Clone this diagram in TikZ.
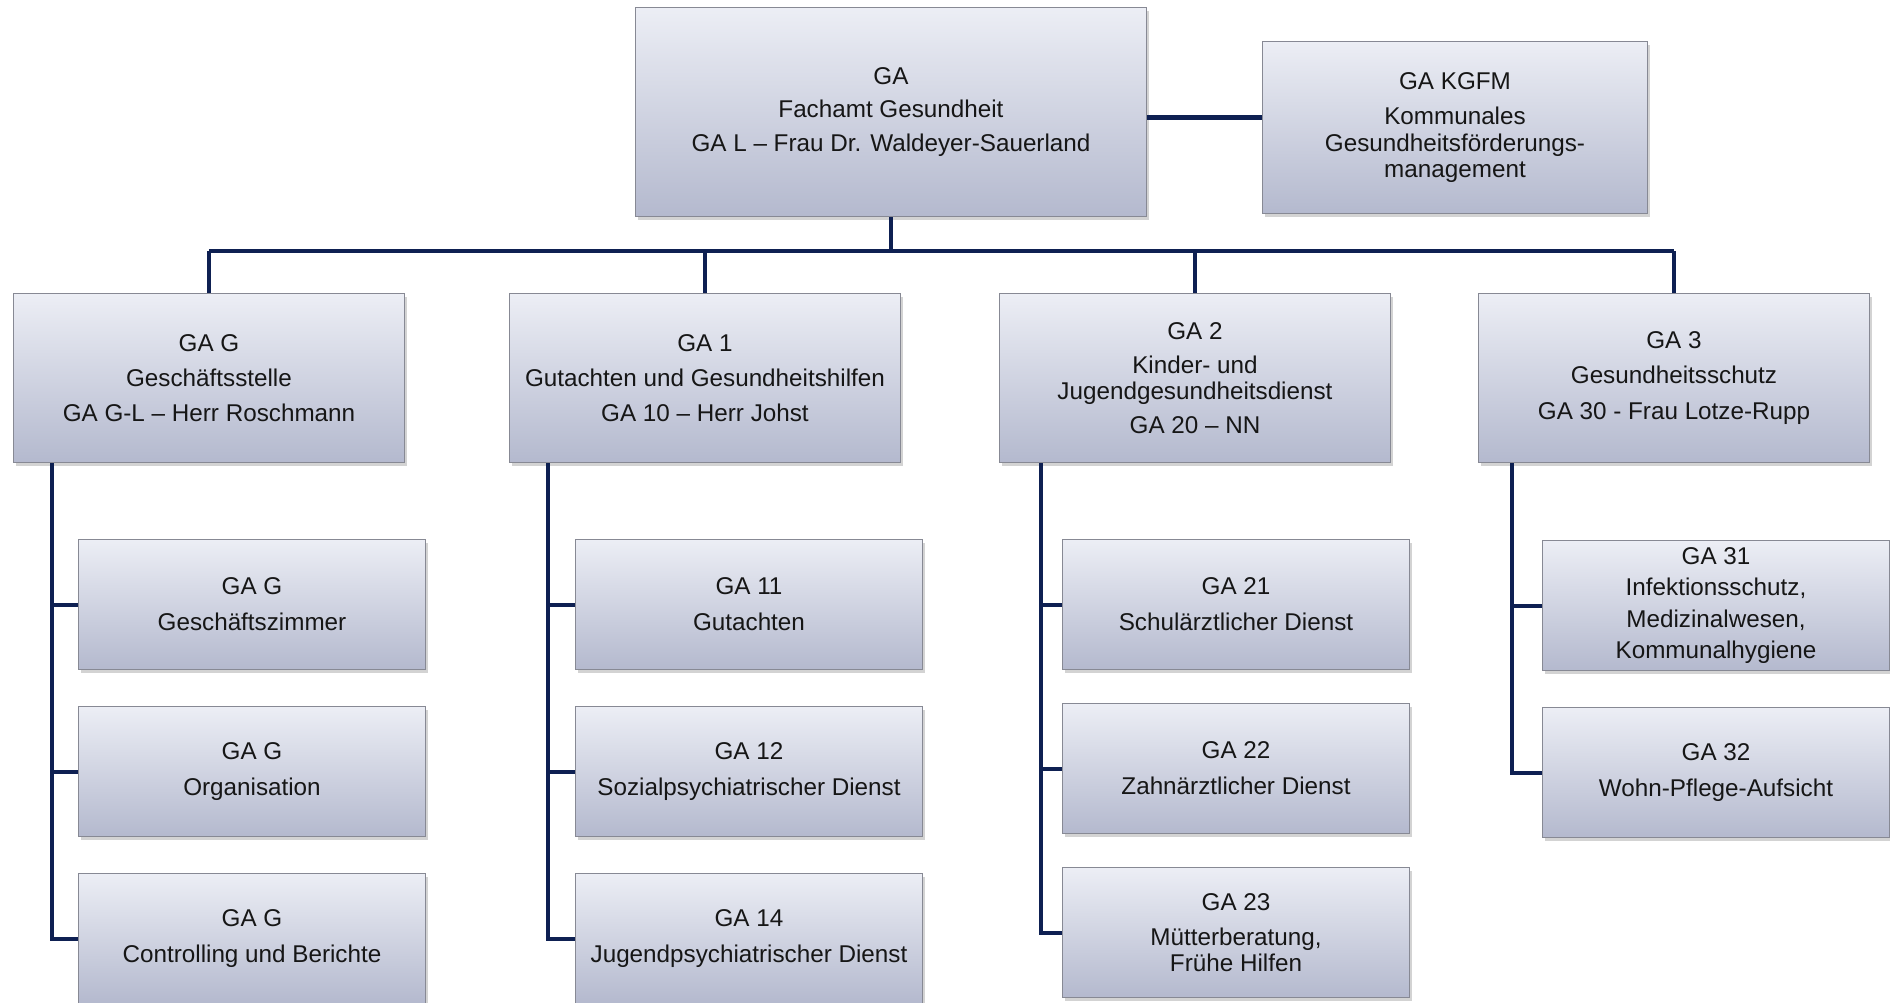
\documentclass[tikz,border=0pt]{standalone}
\usepackage{fontspec}
\setmainfont{Liberation Sans}
\usetikzlibrary{positioning, shadows}

\definecolor{boxtop}{RGB}{236,238,245}
\definecolor{boxbottom}{RGB}{180,185,206}
\definecolor{boxline}{RGB}{135,137,148}
\definecolor{linknavy}{RGB}{14,32,82}
\definecolor{textgrey}{RGB}{22,22,22}

\begin{document}
\begin{tikzpicture}[
    x=0.02cm, y=-0.02cm,
    node distance=0.72cm,
    font=\fontsize{13.8}{15}\selectfont,
    unit/.style={rectangle, draw=boxline, line width=0.6pt, top color=boxtop, bottom color=boxbottom, text=textgrey, align=center, inner sep=2pt, drop shadow={shadow xshift=0.05cm, shadow yshift=-0.07cm, opacity=0.35}},
    head/.style={unit, minimum width=10.22cm, minimum height=4.18cm, anchor=north west},
    staff/.style={unit, minimum width=7.7cm, minimum height=3.44cm, anchor=north west},
    dept/.style={unit, minimum width=7.82cm, minimum height=3.38cm, anchor=north west},
    team/.style={unit, minimum width=6.94cm, minimum height=2.6cm},
    link/.style={draw=linknavy, line width=2.3pt}
]
\useasboundingbox (0,0) rectangle (1890,1002);

% Leitung und Stabsstelle
\node[head] (ga) at (635,7) {GA\\[4.3pt]Fachamt Gesundheit\\[4.3pt]GA L -- Frau Dr. Waldeyer-Sauerland};
\node[staff] (kgfm) at (1262,41) {GA KGFM\\[5pt]Kommunales\\Gesundheitsförderungs-\\management};

% Abteilungen
\node[dept] (gG) at (13,293) {GA G\\[5pt]Geschäftsstelle\\[5pt]GA G-L -- Herr Roschmann};
\node[dept] (g1) at (509,293) {GA 1\\[5pt]Gutachten und Gesundheitshilfen\\[5pt]GA 10 -- Herr Johst};
\node[dept] (g2) at (999,293) {GA 2\\[4.2pt]Kinder- und\\Jugendgesundheitsdienst\\[4.2pt]GA 20 -- NN};
\node[dept] (g3) at (1478,293) {GA 3\\[5pt]Gesundheitsschutz\\[5pt]GA 30 - Frau Lotze-Rupp};

% Sachgebiete GA G
\node[team, anchor=north west] (gGa) at (78,539) {GA G\\[5.5pt]Geschäftszimmer};
\node[team, below=of gGa] (gGb) {GA G\\[5.5pt]Organisation};
\node[team, below=of gGb] (gGc) {GA G\\[5.5pt]Controlling und Berichte};

% Sachgebiete GA 1
\node[team, anchor=north west] (g11) at (575,539) {GA 11\\[5.5pt]Gutachten};
\node[team, below=of g11] (g12) {GA 12\\[5.5pt]Sozialpsychiatrischer Dienst};
\node[team, below=of g12] (g14) {GA 14\\[5.5pt]Jugendpsychiatrischer Dienst};

% Sachgebiete GA 2
\node[team, anchor=north west] (g21) at (1062,539) {GA 21\\[5.5pt]Schulärztlicher Dienst};
\node[team, below=0.66cm of g21] (g22) {GA 22\\[5.5pt]Zahnärztlicher Dienst};
\node[team, below=0.66cm of g22] (g23) {GA 23\\[5pt]Mütterberatung,\\Frühe Hilfen};

% Sachgebiete GA 3
\node[team, anchor=north west] (g31) at (1542,540) {GA 31\\[3pt]Infektionsschutz,\\[3pt]Medizinalwesen,\\[3pt]Kommunalhygiene};
\node[team, below=of g31] (g32) {GA 32\\[5.5pt]Wohn-Pflege-Aufsicht};

% Verbindungen
\coordinate (bus) at (892,251);
\draw[link] ([yshift=-0.11cm]ga.east) -- ([yshift=-0.11cm]ga.east -| kgfm.west);
\draw[link] (ga.south) -- (ga.south |- bus);
\draw[link] (gG.north |- bus) -- (g3.north |- bus);
\draw[link] (gG.north) -- (gG.north |- bus);
\draw[link] (g1.north) -- (g1.north |- bus);
\draw[link] (g2.north) -- (g2.north |- bus);
\draw[link] (g3.north) -- (g3.north |- bus);

\draw[link] ([xshift=0.78cm]gG.south west) |- (gGa.west);
\draw[link] ([xshift=0.78cm]gG.south west) |- (gGb.west);
\draw[link] ([xshift=0.78cm]gG.south west) |- (gGc.west);

\draw[link] ([xshift=0.78cm]g1.south west) |- (g11.west);
\draw[link] ([xshift=0.78cm]g1.south west) |- (g12.west);
\draw[link] ([xshift=0.78cm]g1.south west) |- (g14.west);

\draw[link] ([xshift=0.84cm]g2.south west) |- (g21.west);
\draw[link] ([xshift=0.84cm]g2.south west) |- (g22.west);
\draw[link] ([xshift=0.84cm]g2.south west) |- (g23.west);

\draw[link] ([xshift=0.68cm]g3.south west) |- (g31.west);
\draw[link] ([xshift=0.68cm]g3.south west) |- (g32.west);

\end{tikzpicture}
\end{document}
